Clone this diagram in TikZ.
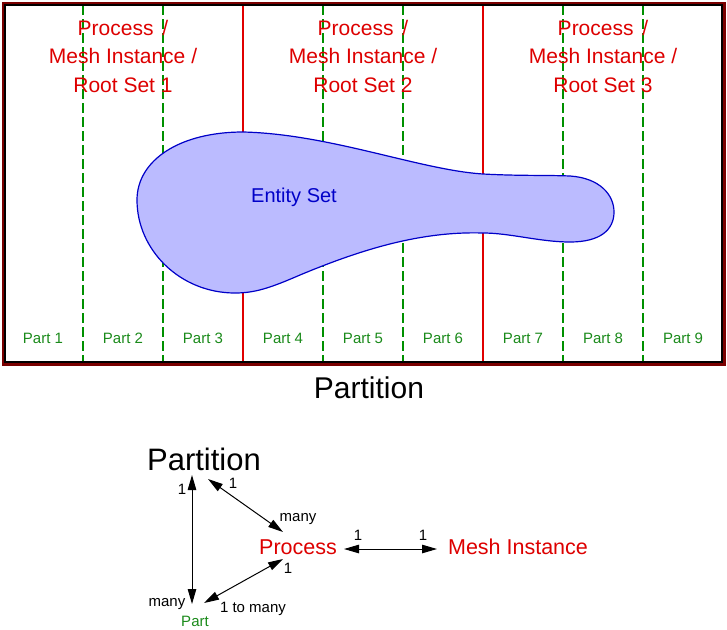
\documentclass[tikz,border=0pt]{standalone}
\usepackage{fontspec}
\setmainfont{Liberation Sans}
\usetikzlibrary{arrows.meta}
\definecolor{lblred}{HTML}{DD0000}
\definecolor{linered}{HTML}{E00000}
\definecolor{framered}{HTML}{7A0000}
\definecolor{dgreen}{HTML}{009000}
\definecolor{tgreen}{HTML}{1A8A1A}
\definecolor{blobfill}{HTML}{BBBBFF}
\definecolor{blobline}{HTML}{0000C8}
\tikzset{
  rootlbl/.style={text=lblred, align=center, font=\fontsize{21}{28.5}\selectfont, inner sep=0pt},
  partlbl/.style={text=tgreen, font=\fontsize{15}{18}\selectfont, inner sep=0pt},
  partline/.style={dgreen, line width=1.3pt, dash pattern=on 10pt off 4pt},
  procline/.style={linered, line width=1.3pt},
  small/.style={font=\fontsize{15}{17}\selectfont, inner sep=0pt},
  big/.style={font=\fontsize{31}{34}\selectfont, inner sep=0pt},
  mid/.style={text=lblred, font=\fontsize{21.5}{24}\selectfont, inner sep=0pt},
  rel/.style={line width=1pt, {Triangle[length=15pt,width=8.5pt]}-{Triangle[length=15pt,width=8.5pt]}}
}
\begin{document}
\begin{tikzpicture}[x=1pt,y=-1pt]
\useasboundingbox (0,0) rectangle (727,629);
% separators
\foreach \xx/\nm in {83/a,163/b,323/c,403/d,563/e,643/f} {
  \coordinate (gt\nm) at (\xx,5);
  \coordinate (gb\nm) at (\xx,362);
}
\foreach \nm in {a,b,c,d,e,f} \draw[partline] (gt\nm) -- (gb\nm);
\coordinate (rt1) at (243,5); \coordinate (rb1) at (243,362);
\coordinate (rt2) at (483,5); \coordinate (rb2) at (483,362);
\draw[procline] (rt1) -- (rb1);
\draw[procline] (rt2) -- (rb2);
% entity set
\path[fill=blobfill, draw=blobline, line width=1.2pt]
  (137,200) .. controls (137,160) and (180,132) .. (243,132)
  .. controls (330,134) and (420,170) .. (483,174)
  .. controls (520,176) and (545,175) .. (570,176)
  .. controls (600,178) and (614,195) .. (614,212)
  .. controls (614,230) and (600,242) .. (570,242)
  .. controls (540,242) and (510,233) .. (483,233)
  .. controls (420,231) and (360,250) .. (300,275)
  .. controls (270,288) and (255,293) .. (235,293)
  .. controls (180,293) and (137,250) .. (137,200) -- cycle;
\node[text=blobline, font=\fontsize{20}{24}\selectfont, inner sep=0pt] (es) at (294,197) {Entity Set};
% frame
\draw[framered, line width=3pt] (3,3) rectangle (724,364);
\draw[black, line width=1.2pt] (5,5) rectangle (722,362);
% root set labels
\node[rootlbl] (r1) at (123,56) {Process\hspace{3pt} /\\Mesh Instance /\\Root Set 1};
\node[rootlbl] (r2) at (363,56) {Process\hspace{3pt} /\\Mesh Instance /\\Root Set 2};
\node[rootlbl] (r3) at (603,56) {Process\hspace{3pt} /\\Mesh Instance /\\Root Set 3};
% part labels
\foreach \i in {1,...,9} {
  \node[partlbl] (p\i) at ({43+80*(\i-1)},338) {Part \i};
}
\node[big, font=\fontsize{30}{34}\selectfont] (cap) at (369,388) {Partition};
% lower diagram
\node[big] (partition) at (204,459) {Partition};
\node[mid] (process) at (298,547) {Process};
\node[mid] (mesh) at (518,547) {Mesh Instance};
\node[partlbl] (part) at (195,621) {Part};
\coordinate (vt) at (192,475);
\coordinate (vb) at (192,604);
\coordinate (ut) at (208,479);
\coordinate (ub) at (283,532);
\coordinate (lt) at (283,559);
\coordinate (lb) at (204,603);
\coordinate (hl) at (344,549);
\coordinate (hr) at (437,549);
\draw[rel] (vt) -- (vb);
\draw[rel] (ut) -- (ub);
\draw[rel] (lb) -- (lt);
\draw[rel] (hl) -- (hr);
\node[small] (l1) at (182,489) {1};
\node[small] (l2) at (233,483) {1};
\node[small] (l3) at (298,519) {many};
\node[small] (l4) at (288,568) {1};
\node[small] (l5) at (167,604) {many};
\node[small] (l6) at (253,609) {1 to many};
\node[small] (l7) at (358,535) {1};
\node[small] (l8) at (423,535) {1};
\end{tikzpicture}
\end{document}
